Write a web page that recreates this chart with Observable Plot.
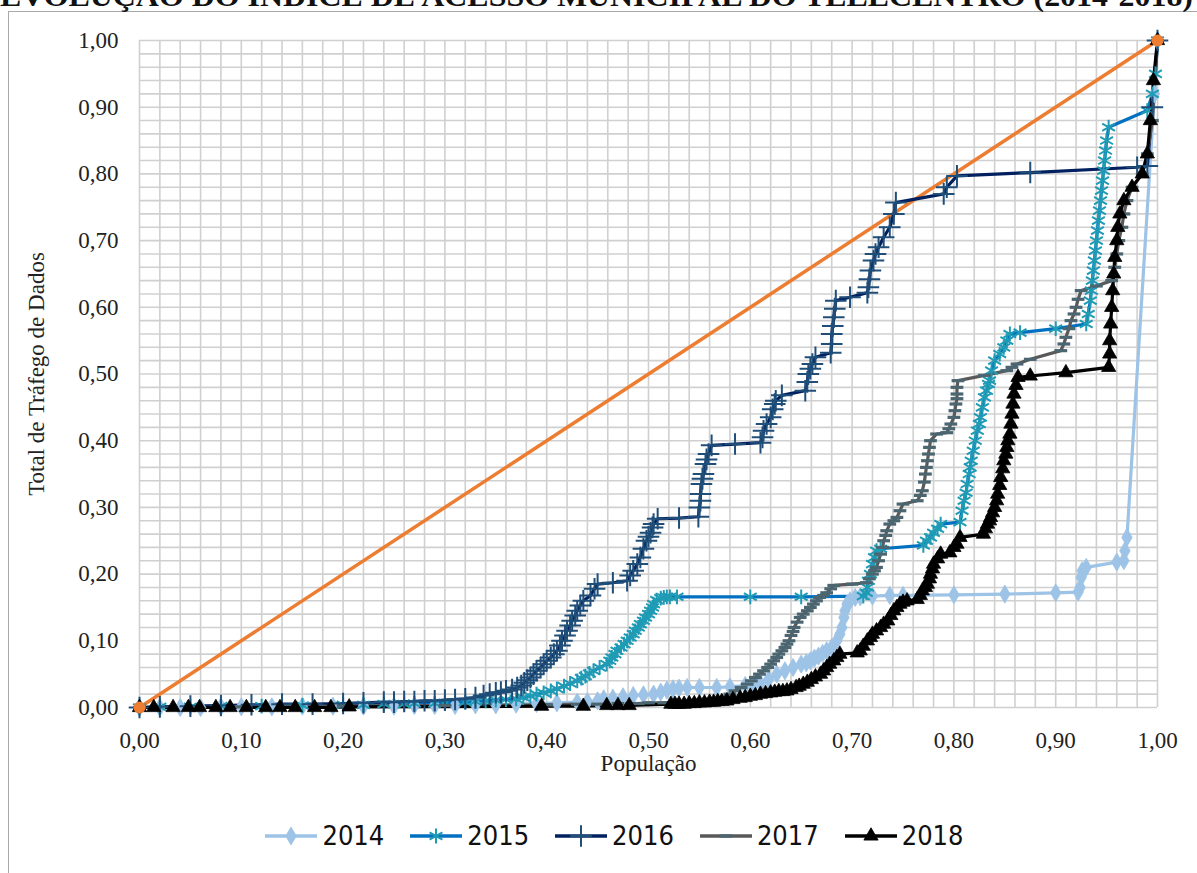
<!DOCTYPE html>
<html>
<head>
<meta charset="utf-8">
<script src="https://cdn.jsdelivr.net/npm/d3@7"></script>
<script src="https://cdn.jsdelivr.net/npm/@observablehq/plot@0.6"></script>
<style>
  html, body { margin: 0; padding: 0; background: #fff; overflow: hidden; }
  body { width: 1197px; height: 873px; position: relative; }
  #frame { position: absolute; left: 8px; top: 11px; width: 1300px; height: 1000px; border: 1.5px solid #a9a9a9; box-sizing: border-box; }
  #title { position: absolute; left: 0; top: -18px; }
  #chart { position: absolute; left: 0; top: 0; }
  #legend { position: absolute; left: 0; top: 820px; width: 1227px; display: flex; justify-content: center; gap: 24px; font-family: "Liberation Sans Narrow", "DejaVu Sans Condensed", sans-serif; font-size: 27px; color: #111; }
  .item { display: flex; align-items: center; gap: 3px; }
</style>
</head>
<body>
<div id="frame"></div>
<div id="title"></div>
<div id="chart"></div>
<div id="legend"></div>
<script>
// ---------- DATA ----------
const xTicks = [0, 0.1, 0.2, 0.3, 0.4, 0.5, 0.6, 0.7, 0.8, 0.9, 1.0];
const yTicks = [0, 0.1, 0.2, 0.3, 0.4, 0.5, 0.6, 0.7, 0.8, 0.9, 1.0];
const years = ["2014", "2015", "2016", "2017", "2018"];

// [população acumulada, tráfego acumulado]
const s2014 = [[0,0],[0.02,0],[0.04,0],[0.06,0],[0.08,0.001],[0.1,0.001],[0.13,0.001],[0.16,0.002],[0.19,0.002],[0.22,0.002],[0.25,0.002],[0.27,0.003],[0.29,0.003],[0.31,0.003],[0.33,0.004],[0.35,0.004],[0.37,0.005],[0.39,0.006],[0.41,0.007],[0.43,0.008],[0.44,0.009],[0.45,0.01],[0.456,0.013],[0.465,0.014],[0.475,0.016],[0.485,0.018],[0.495,0.019],[0.505,0.02],[0.512,0.023],[0.518,0.026],[0.524,0.028],[0.53,0.029],[0.538,0.03],[0.55,0.03],[0.567,0.03],[0.58,0.031],[0.595,0.033],[0.603,0.034],[0.61,0.036],[0.618,0.042],[0.626,0.05],[0.634,0.055],[0.642,0.06],[0.65,0.065],[0.655,0.067],[0.659,0.07],[0.663,0.074],[0.667,0.077],[0.671,0.081],[0.675,0.085],[0.68,0.09],[0.685,0.1],[0.688,0.11],[0.69,0.12],[0.692,0.135],[0.693,0.145],[0.695,0.155],[0.698,0.16],[0.703,0.165],[0.708,0.166],[0.72,0.167],[0.737,0.168],[0.75,0.168],[0.8,0.169],[0.85,0.17],[0.9,0.172],[0.922,0.173],[0.924,0.18],[0.925,0.195],[0.926,0.205],[0.93,0.21],[0.96,0.218],[0.967,0.22],[0.968,0.235],[0.97,0.255],[0.997,0.92],[1,1]];

const s2015 = [[0,0],[0.02,0.001],[0.05,0.001],[0.08,0.002],[0.12,0.002],[0.16,0.003],[0.2,0.004],[0.22,0.004],[0.24,0.005],[0.26,0.005],[0.27,0.006],[0.29,0.006],[0.3,0.007],[0.32,0.008],[0.33,0.009],[0.34,0.01],[0.35,0.011],[0.36,0.012],[0.37,0.013],[0.377,0.015],[0.384,0.017],[0.39,0.02],[0.397,0.022],[0.404,0.025],[0.41,0.028],[0.417,0.032],[0.423,0.036],[0.43,0.04],[0.434,0.044],[0.438,0.047],[0.442,0.051],[0.446,0.055],[0.452,0.06],[0.459,0.065],[0.462,0.07],[0.464,0.075],[0.467,0.08],[0.469,0.085],[0.473,0.09],[0.476,0.095],[0.479,0.1],[0.482,0.105],[0.485,0.11],[0.487,0.115],[0.49,0.12],[0.492,0.125],[0.495,0.13],[0.497,0.135],[0.5,0.14],[0.502,0.145],[0.504,0.15],[0.505,0.155],[0.508,0.161],[0.512,0.164],[0.515,0.165],[0.518,0.166],[0.521,0.166],[0.528,0.166],[0.6,0.166],[0.65,0.166],[0.711,0.167],[0.714,0.172],[0.715,0.18],[0.716,0.19],[0.718,0.2],[0.72,0.215],[0.722,0.225],[0.724,0.235],[0.728,0.238],[0.77,0.243],[0.773,0.25],[0.777,0.255],[0.78,0.262],[0.784,0.268],[0.787,0.275],[0.806,0.278],[0.808,0.295],[0.81,0.31],[0.812,0.322],[0.813,0.335],[0.815,0.35],[0.816,0.36],[0.817,0.37],[0.819,0.385],[0.821,0.4],[0.823,0.415],[0.825,0.425],[0.826,0.435],[0.828,0.45],[0.83,0.465],[0.832,0.475],[0.834,0.485],[0.835,0.49],[0.837,0.505],[0.84,0.52],[0.845,0.53],[0.849,0.54],[0.852,0.55],[0.855,0.56],[0.865,0.562],[0.9,0.568],[0.93,0.575],[0.932,0.59],[0.934,0.61],[0.935,0.625],[0.936,0.64],[0.937,0.655],[0.938,0.67],[0.939,0.685],[0.94,0.7],[0.941,0.715],[0.942,0.73],[0.943,0.745],[0.944,0.76],[0.945,0.775],[0.946,0.79],[0.947,0.805],[0.948,0.82],[0.949,0.835],[0.95,0.85],[0.952,0.87],[0.99,0.895],[0.995,0.92],[0.998,0.95],[1,1]];

const s2016 = [[0,0],[0.02,0.001],[0.05,0.002],[0.08,0.003],[0.11,0.004],[0.14,0.005],[0.17,0.005],[0.2,0.006],[0.22,0.007],[0.24,0.008],[0.25,0.008],[0.26,0.009],[0.27,0.009],[0.28,0.01],[0.29,0.01],[0.3,0.011],[0.31,0.012],[0.32,0.013],[0.33,0.015],[0.338,0.018],[0.344,0.02],[0.35,0.022],[0.355,0.023],[0.36,0.025],[0.366,0.027],[0.371,0.03],[0.375,0.033],[0.378,0.037],[0.381,0.041],[0.384,0.045],[0.387,0.05],[0.39,0.055],[0.394,0.06],[0.397,0.065],[0.4,0.07],[0.404,0.075],[0.407,0.08],[0.41,0.085],[0.413,0.093],[0.415,0.1],[0.418,0.108],[0.42,0.115],[0.423,0.123],[0.425,0.13],[0.428,0.138],[0.43,0.145],[0.433,0.153],[0.436,0.16],[0.443,0.168],[0.447,0.178],[0.45,0.185],[0.465,0.187],[0.479,0.19],[0.482,0.198],[0.485,0.205],[0.489,0.215],[0.492,0.225],[0.495,0.238],[0.498,0.25],[0.5,0.256],[0.502,0.262],[0.504,0.27],[0.505,0.275],[0.509,0.283],[0.53,0.284],[0.549,0.286],[0.55,0.3],[0.551,0.31],[0.551,0.32],[0.552,0.335],[0.553,0.343],[0.554,0.35],[0.556,0.365],[0.557,0.372],[0.559,0.38],[0.562,0.393],[0.585,0.395],[0.61,0.397],[0.612,0.405],[0.613,0.415],[0.616,0.425],[0.62,0.435],[0.622,0.447],[0.624,0.455],[0.625,0.46],[0.631,0.468],[0.654,0.475],[0.656,0.488],[0.657,0.5],[0.659,0.508],[0.661,0.515],[0.664,0.525],[0.679,0.532],[0.68,0.545],[0.68,0.56],[0.681,0.572],[0.682,0.585],[0.683,0.598],[0.684,0.61],[0.698,0.615],[0.715,0.622],[0.716,0.63],[0.717,0.642],[0.718,0.655],[0.721,0.67],[0.723,0.68],[0.726,0.69],[0.731,0.705],[0.737,0.72],[0.741,0.74],[0.743,0.757],[0.79,0.77],[0.793,0.78],[0.803,0.797],[0.875,0.802],[0.98,0.81],[0.99,0.812],[0.995,0.9],[1,1]];

const s2017 = [[0,0],[0.05,0],[0.1,0.001],[0.2,0.002],[0.3,0.003],[0.4,0.004],[0.43,0.005],[0.45,0.005],[0.47,0.006],[0.49,0.006],[0.5,0.007],[0.515,0.007],[0.53,0.008],[0.54,0.009],[0.55,0.01],[0.56,0.012],[0.567,0.013],[0.574,0.015],[0.58,0.02],[0.585,0.025],[0.591,0.03],[0.597,0.035],[0.601,0.04],[0.605,0.045],[0.609,0.05],[0.613,0.055],[0.617,0.06],[0.62,0.065],[0.623,0.07],[0.626,0.075],[0.628,0.08],[0.631,0.085],[0.634,0.09],[0.636,0.095],[0.638,0.1],[0.64,0.108],[0.642,0.114],[0.643,0.12],[0.646,0.128],[0.649,0.135],[0.652,0.14],[0.656,0.145],[0.659,0.15],[0.662,0.155],[0.665,0.16],[0.668,0.165],[0.672,0.168],[0.675,0.172],[0.679,0.178],[0.682,0.183],[0.7,0.185],[0.714,0.187],[0.717,0.193],[0.72,0.2],[0.722,0.205],[0.724,0.21],[0.726,0.22],[0.728,0.23],[0.73,0.24],[0.731,0.25],[0.733,0.258],[0.734,0.265],[0.737,0.275],[0.741,0.28],[0.744,0.285],[0.747,0.295],[0.75,0.305],[0.764,0.31],[0.767,0.318],[0.769,0.325],[0.771,0.338],[0.772,0.35],[0.773,0.36],[0.774,0.37],[0.775,0.38],[0.776,0.39],[0.777,0.4],[0.783,0.41],[0.793,0.412],[0.795,0.418],[0.797,0.425],[0.8,0.435],[0.801,0.445],[0.802,0.455],[0.803,0.463],[0.803,0.47],[0.803,0.48],[0.804,0.49],[0.83,0.498],[0.852,0.505],[0.857,0.51],[0.862,0.515],[0.875,0.522],[0.905,0.535],[0.908,0.545],[0.91,0.555],[0.913,0.568],[0.915,0.58],[0.918,0.59],[0.92,0.6],[0.922,0.612],[0.925,0.625],[0.94,0.632],[0.955,0.64],[0.958,0.66],[0.96,0.68],[0.962,0.7],[0.965,0.72],[0.967,0.74],[0.97,0.76],[0.975,0.78],[0.985,0.8],[0.99,0.83],[0.995,0.88],[1,1]];

const s2018 = [[0,0],[0.014,0],[0.033,0],[0.048,0],[0.059,0],[0.075,0],[0.089,0],[0.105,0],[0.124,0],[0.138,0],[0.153,0],[0.172,0],[0.188,0],[0.206,0.001],[0.395,0.002],[0.436,0.002],[0.459,0.003],[0.47,0.003],[0.481,0.003],[0.522,0.005],[0.526,0.005],[0.53,0.005],[0.535,0.005],[0.54,0.006],[0.545,0.006],[0.55,0.007],[0.555,0.007],[0.56,0.008],[0.564,0.008],[0.568,0.009],[0.572,0.009],[0.577,0.01],[0.583,0.012],[0.59,0.014],[0.595,0.015],[0.6,0.017],[0.605,0.018],[0.61,0.02],[0.615,0.021],[0.62,0.022],[0.624,0.023],[0.628,0.024],[0.632,0.024],[0.636,0.025],[0.64,0.027],[0.645,0.03],[0.648,0.032],[0.652,0.035],[0.656,0.038],[0.66,0.042],[0.664,0.046],[0.669,0.05],[0.672,0.055],[0.675,0.06],[0.678,0.065],[0.682,0.07],[0.685,0.075],[0.688,0.08],[0.705,0.082],[0.708,0.085],[0.711,0.092],[0.715,0.1],[0.718,0.105],[0.72,0.11],[0.724,0.115],[0.728,0.12],[0.731,0.125],[0.735,0.13],[0.738,0.138],[0.741,0.145],[0.744,0.15],[0.747,0.155],[0.75,0.158],[0.754,0.16],[0.764,0.162],[0.767,0.168],[0.769,0.175],[0.772,0.18],[0.774,0.185],[0.776,0.193],[0.777,0.2],[0.779,0.208],[0.78,0.215],[0.784,0.223],[0.787,0.23],[0.796,0.232],[0.8,0.24],[0.803,0.245],[0.806,0.255],[0.829,0.26],[0.831,0.268],[0.833,0.275],[0.835,0.28],[0.836,0.285],[0.838,0.292],[0.84,0.3],[0.842,0.31],[0.843,0.32],[0.845,0.333],[0.846,0.345],[0.848,0.358],[0.849,0.37],[0.851,0.38],[0.852,0.39],[0.853,0.4],[0.855,0.41],[0.856,0.425],[0.857,0.44],[0.858,0.455],[0.859,0.47],[0.861,0.483],[0.863,0.495],[0.875,0.497],[0.91,0.502],[0.952,0.51],[0.953,0.53],[0.953,0.55],[0.954,0.575],[0.955,0.6],[0.956,0.625],[0.957,0.65],[0.958,0.675],[0.96,0.7],[0.961,0.72],[0.963,0.74],[0.967,0.76],[0.975,0.78],[0.985,0.8],[0.99,0.83],[0.993,0.88],[0.996,0.94],[1,1]];

const sEquality = [[0,0],[1,1]];

// ---------- STYLE ----------
const styles = [
  {line: "#9dc3e6", mark: "#9dc3e6", symbol: "diamond", r: 5.5, fill: true},
  {line: "#0070c0", mark: "#1f9bb5", symbol: "asterisk", r: 7, fill: false},
  {line: "#002060", mark: "#1f4e79", symbol: "plus", r: 7, fill: false},
  {line: "#595959", mark: "#4b6670", symbol: "dash", r: 6, fill: false},
  {line: "#000000", mark: "#000000", symbol: "triangle", r: 5.3, fill: true}
];
const seriesData = [s2014, s2015, s2016, s2017, s2018];
const series = years.map((name, i) => ({name, pts: seriesData[i], ...styles[i]}));

const dashSymbol = {
  draw(context, size) {
    const w = Math.sqrt(size) * 0.6;
    context.moveTo(-w, 0);
    context.lineTo(w, 0);
  }
};

const fmt = v => d3.format(".2f")(v).replace(".", ",");
const serif = "'Liberation Serif', 'Times New Roman', serif";

const W = 1197, H = 790;
const marks = [
  Plot.gridX(d3.range(0, 1.0001, 0.02), {stroke: "#d0d0d0", strokeOpacity: 1, strokeWidth: 1.6}),
  Plot.gridY(d3.range(0, 1.0001, 0.02), {stroke: "#d0d0d0", strokeOpacity: 1, strokeWidth: 1.6}),
  Plot.axisX(xTicks, {tickSize: 0, tickPadding: 24, tickFormat: fmt, fontSize: 23, fontFamily: serif, fill: "#222", label: null}),
  Plot.axisY(yTicks, {tickSize: 0, tickPadding: 21, tickFormat: fmt, fontSize: 23, fontFamily: serif, fill: "#222", label: null}),
  Plot.text(["População"], {frameAnchor: "bottom", dy: 63, fontSize: 23, fontFamily: serif, fill: "#222"}),
  Plot.text(["Total de Tráfego de Dados"], {frameAnchor: "left", textAnchor: "middle", dx: -103, rotate: -90, fontSize: 23, fontFamily: serif, fill: "#222"}),
  Plot.line(sEquality, {x: d => d[0], y: d => d[1], stroke: "#ed7d31", strokeWidth: 3.5})
];
for (const s of series) {
  marks.push(Plot.line(s.pts, {x: d => d[0], y: d => d[1], stroke: s.line, strokeWidth: 3.2}));
}
for (const s of series) {
  const sym = s.symbol === "dash" ? dashSymbol : s.symbol;
  marks.push(Plot.dot(s.pts, s.fill
    ? {x: d => d[0], y: d => d[1], symbol: sym, r: s.r, fill: s.mark, stroke: s.mark, strokeWidth: 0.8}
    : {x: d => d[0], y: d => d[1], symbol: sym, r: s.r, stroke: s.mark, fill: "none", strokeWidth: s.symbol === "dash" ? 3.2 : 2}));
}
marks.push(Plot.dot(sEquality, {x: d => d[0], y: d => d[1], r: 6, fill: "#ed7d31"}));

const chart = Plot.plot({
  width: W, height: H,
  marginLeft: 139, marginRight: 40, marginTop: 40, marginBottom: 83,
  x: {domain: [0, 1]},
  y: {domain: [0, 1]},
  style: {background: "transparent", overflow: "visible"},
  marks
});
document.getElementById("chart").appendChild(chart);

// Title (cut at the top edge, as in the reference)
const tsvg = d3.create("svg").attr("width", 1197).attr("height", 40);
tsvg.append("text").attr("x", 0).attr("y", 24).attr("textLength", 1193).attr("lengthAdjust", "spacingAndGlyphs")
  .attr("font-family", serif).attr("font-size", 30).attr("font-weight", "bold").attr("fill", "#111")
  .text("EVOLUÇÃO DO ÍNDICE DE ACESSO MUNICIPAL DO TELECENTRO (2014-2018)");
document.getElementById("title").appendChild(tsvg.node());

// Legend
const legend = d3.select("#legend");
for (const s of series) {
  const it = legend.append("div").attr("class", "item");
  const sv = it.append("svg").attr("width", 56).attr("height", 24);
  sv.append("line").attr("x1", 2).attr("x2", 54).attr("y1", 12).attr("y2", 12).attr("stroke", s.line).attr("stroke-width", 3.5);
  const symType = s.symbol === "dash" ? dashSymbol : ({diamond: d3.symbolDiamond, asterisk: d3.symbolAsterisk, plus: d3.symbolPlus, triangle: d3.symbolTriangle})[s.symbol];
  sv.append("path").attr("transform", "translate(28,12)")
    .attr("d", d3.symbol(symType, Math.PI * s.r * s.r)())
    .attr("fill", s.fill ? s.mark : "none").attr("stroke", s.mark).attr("stroke-width", s.fill ? 0.8 : (s.symbol === "dash" ? 3.2 : 2));
  it.append("span").text(s.name);
}
</script>
</body>
</html>
